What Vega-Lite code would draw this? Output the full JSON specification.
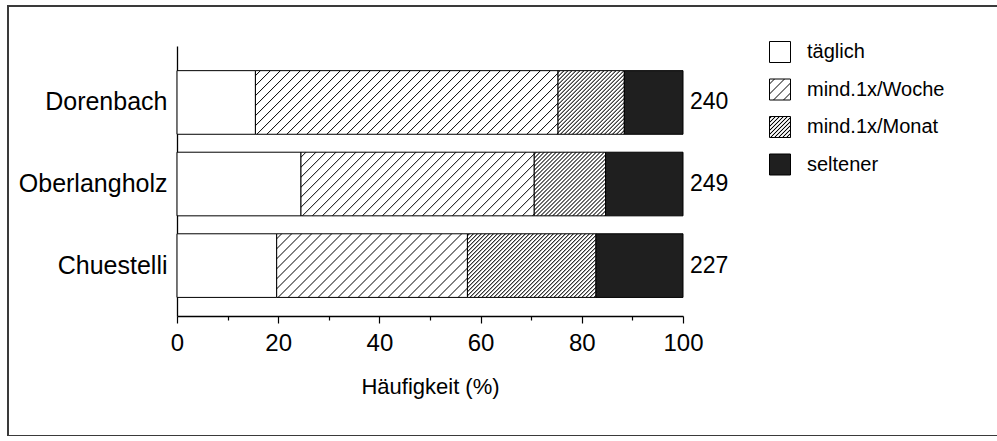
{
  "$schema": "https://vega.github.io/schema/vega-lite/v6.json",
  "width": 1000,
  "height": 430,
  "autosize": {"type": "none"},
  "padding": {"left": 8, "top": 6, "right": 0, "bottom": 0},
  "background": "white",
  "config": {
    "view": {"stroke": "#3a3a3a", "strokeWidth": 2},
    "font": "Liberation Sans",
    "axis": {"domainColor": "black", "domainWidth": 1.3, "labelColor": "black", "titleColor": "black", "labelFont": "Liberation Sans", "titleFont": "Liberation Sans", "grid": false}
  },
  "params": [
    {"name": "stopsW", "value": [
      {"offset":0.01,"color":"#fff"},{"offset":0.0125,"color":"#000"},{"offset":0.015,"color":"#fff"},
      {"offset":0.035,"color":"#fff"},{"offset":0.0375,"color":"#000"},{"offset":0.04,"color":"#fff"},
      {"offset":0.06,"color":"#fff"},{"offset":0.0625,"color":"#000"},{"offset":0.065,"color":"#fff"},
      {"offset":0.085,"color":"#fff"},{"offset":0.0875,"color":"#000"},{"offset":0.09,"color":"#fff"},
      {"offset":0.11,"color":"#fff"},{"offset":0.1125,"color":"#000"},{"offset":0.115,"color":"#fff"},
      {"offset":0.135,"color":"#fff"},{"offset":0.1375,"color":"#000"},{"offset":0.14,"color":"#fff"},
      {"offset":0.16,"color":"#fff"},{"offset":0.1625,"color":"#000"},{"offset":0.165,"color":"#fff"},
      {"offset":0.185,"color":"#fff"},{"offset":0.1875,"color":"#000"},{"offset":0.19,"color":"#fff"},
      {"offset":0.21,"color":"#fff"},{"offset":0.2125,"color":"#000"},{"offset":0.215,"color":"#fff"},
      {"offset":0.235,"color":"#fff"},{"offset":0.2375,"color":"#000"},{"offset":0.24,"color":"#fff"},
      {"offset":0.26,"color":"#fff"},{"offset":0.2625,"color":"#000"},{"offset":0.265,"color":"#fff"},
      {"offset":0.285,"color":"#fff"},{"offset":0.2875,"color":"#000"},{"offset":0.29,"color":"#fff"},
      {"offset":0.31,"color":"#fff"},{"offset":0.3125,"color":"#000"},{"offset":0.315,"color":"#fff"},
      {"offset":0.335,"color":"#fff"},{"offset":0.3375,"color":"#000"},{"offset":0.34,"color":"#fff"},
      {"offset":0.36,"color":"#fff"},{"offset":0.3625,"color":"#000"},{"offset":0.365,"color":"#fff"},
      {"offset":0.385,"color":"#fff"},{"offset":0.3875,"color":"#000"},{"offset":0.39,"color":"#fff"},
      {"offset":0.41,"color":"#fff"},{"offset":0.4125,"color":"#000"},{"offset":0.415,"color":"#fff"},
      {"offset":0.435,"color":"#fff"},{"offset":0.4375,"color":"#000"},{"offset":0.44,"color":"#fff"},
      {"offset":0.46,"color":"#fff"},{"offset":0.4625,"color":"#000"},{"offset":0.465,"color":"#fff"},
      {"offset":0.485,"color":"#fff"},{"offset":0.4875,"color":"#000"},{"offset":0.49,"color":"#fff"},
      {"offset":0.51,"color":"#fff"},{"offset":0.5125,"color":"#000"},{"offset":0.515,"color":"#fff"},
      {"offset":0.535,"color":"#fff"},{"offset":0.5375,"color":"#000"},{"offset":0.54,"color":"#fff"},
      {"offset":0.56,"color":"#fff"},{"offset":0.5625,"color":"#000"},{"offset":0.565,"color":"#fff"},
      {"offset":0.585,"color":"#fff"},{"offset":0.5875,"color":"#000"},{"offset":0.59,"color":"#fff"},
      {"offset":0.61,"color":"#fff"},{"offset":0.6125,"color":"#000"},{"offset":0.615,"color":"#fff"},
      {"offset":0.635,"color":"#fff"},{"offset":0.6375,"color":"#000"},{"offset":0.64,"color":"#fff"},
      {"offset":0.66,"color":"#fff"},{"offset":0.6625,"color":"#000"},{"offset":0.665,"color":"#fff"},
      {"offset":0.685,"color":"#fff"},{"offset":0.6875,"color":"#000"},{"offset":0.69,"color":"#fff"},
      {"offset":0.71,"color":"#fff"},{"offset":0.7125,"color":"#000"},{"offset":0.715,"color":"#fff"},
      {"offset":0.735,"color":"#fff"},{"offset":0.7375,"color":"#000"},{"offset":0.74,"color":"#fff"},
      {"offset":0.76,"color":"#fff"},{"offset":0.7625,"color":"#000"},{"offset":0.765,"color":"#fff"},
      {"offset":0.785,"color":"#fff"},{"offset":0.7875,"color":"#000"},{"offset":0.79,"color":"#fff"},
      {"offset":0.81,"color":"#fff"},{"offset":0.8125,"color":"#000"},{"offset":0.815,"color":"#fff"},
      {"offset":0.835,"color":"#fff"},{"offset":0.8375,"color":"#000"},{"offset":0.84,"color":"#fff"},
      {"offset":0.86,"color":"#fff"},{"offset":0.8625,"color":"#000"},{"offset":0.865,"color":"#fff"},
      {"offset":0.885,"color":"#fff"},{"offset":0.8875,"color":"#000"},{"offset":0.89,"color":"#fff"},
      {"offset":0.91,"color":"#fff"},{"offset":0.9125,"color":"#000"},{"offset":0.915,"color":"#fff"},
      {"offset":0.935,"color":"#fff"},{"offset":0.9375,"color":"#000"},{"offset":0.94,"color":"#fff"},
      {"offset":0.96,"color":"#fff"},{"offset":0.9625,"color":"#000"},{"offset":0.965,"color":"#fff"},
      {"offset":0.985,"color":"#fff"},{"offset":0.9875,"color":"#000"},{"offset":0.99,"color":"#fff"}
    ]},
    {"name": "stopsM", "value": [
      {"offset":0.004,"color":"#fff"},{"offset":0.01,"color":"#000"},{"offset":0.016,"color":"#fff"},
      {"offset":0.024,"color":"#fff"},{"offset":0.03,"color":"#000"},{"offset":0.036,"color":"#fff"},
      {"offset":0.044,"color":"#fff"},{"offset":0.05,"color":"#000"},{"offset":0.056,"color":"#fff"},
      {"offset":0.064,"color":"#fff"},{"offset":0.07,"color":"#000"},{"offset":0.076,"color":"#fff"},
      {"offset":0.084,"color":"#fff"},{"offset":0.09,"color":"#000"},{"offset":0.096,"color":"#fff"},
      {"offset":0.104,"color":"#fff"},{"offset":0.11,"color":"#000"},{"offset":0.116,"color":"#fff"},
      {"offset":0.124,"color":"#fff"},{"offset":0.13,"color":"#000"},{"offset":0.136,"color":"#fff"},
      {"offset":0.144,"color":"#fff"},{"offset":0.15,"color":"#000"},{"offset":0.156,"color":"#fff"},
      {"offset":0.164,"color":"#fff"},{"offset":0.17,"color":"#000"},{"offset":0.176,"color":"#fff"},
      {"offset":0.184,"color":"#fff"},{"offset":0.19,"color":"#000"},{"offset":0.196,"color":"#fff"},
      {"offset":0.204,"color":"#fff"},{"offset":0.21,"color":"#000"},{"offset":0.216,"color":"#fff"},
      {"offset":0.224,"color":"#fff"},{"offset":0.23,"color":"#000"},{"offset":0.236,"color":"#fff"},
      {"offset":0.244,"color":"#fff"},{"offset":0.25,"color":"#000"},{"offset":0.256,"color":"#fff"},
      {"offset":0.264,"color":"#fff"},{"offset":0.27,"color":"#000"},{"offset":0.276,"color":"#fff"},
      {"offset":0.284,"color":"#fff"},{"offset":0.29,"color":"#000"},{"offset":0.296,"color":"#fff"},
      {"offset":0.304,"color":"#fff"},{"offset":0.31,"color":"#000"},{"offset":0.316,"color":"#fff"},
      {"offset":0.324,"color":"#fff"},{"offset":0.33,"color":"#000"},{"offset":0.336,"color":"#fff"},
      {"offset":0.344,"color":"#fff"},{"offset":0.35,"color":"#000"},{"offset":0.356,"color":"#fff"},
      {"offset":0.364,"color":"#fff"},{"offset":0.37,"color":"#000"},{"offset":0.376,"color":"#fff"},
      {"offset":0.384,"color":"#fff"},{"offset":0.39,"color":"#000"},{"offset":0.396,"color":"#fff"},
      {"offset":0.404,"color":"#fff"},{"offset":0.41,"color":"#000"},{"offset":0.416,"color":"#fff"},
      {"offset":0.424,"color":"#fff"},{"offset":0.43,"color":"#000"},{"offset":0.436,"color":"#fff"},
      {"offset":0.444,"color":"#fff"},{"offset":0.45,"color":"#000"},{"offset":0.456,"color":"#fff"},
      {"offset":0.464,"color":"#fff"},{"offset":0.47,"color":"#000"},{"offset":0.476,"color":"#fff"},
      {"offset":0.484,"color":"#fff"},{"offset":0.49,"color":"#000"},{"offset":0.496,"color":"#fff"},
      {"offset":0.504,"color":"#fff"},{"offset":0.51,"color":"#000"},{"offset":0.516,"color":"#fff"},
      {"offset":0.524,"color":"#fff"},{"offset":0.53,"color":"#000"},{"offset":0.536,"color":"#fff"},
      {"offset":0.544,"color":"#fff"},{"offset":0.55,"color":"#000"},{"offset":0.556,"color":"#fff"},
      {"offset":0.564,"color":"#fff"},{"offset":0.57,"color":"#000"},{"offset":0.576,"color":"#fff"},
      {"offset":0.584,"color":"#fff"},{"offset":0.59,"color":"#000"},{"offset":0.596,"color":"#fff"},
      {"offset":0.604,"color":"#fff"},{"offset":0.61,"color":"#000"},{"offset":0.616,"color":"#fff"},
      {"offset":0.624,"color":"#fff"},{"offset":0.63,"color":"#000"},{"offset":0.636,"color":"#fff"},
      {"offset":0.644,"color":"#fff"},{"offset":0.65,"color":"#000"},{"offset":0.656,"color":"#fff"},
      {"offset":0.664,"color":"#fff"},{"offset":0.67,"color":"#000"},{"offset":0.676,"color":"#fff"},
      {"offset":0.684,"color":"#fff"},{"offset":0.69,"color":"#000"},{"offset":0.696,"color":"#fff"},
      {"offset":0.704,"color":"#fff"},{"offset":0.71,"color":"#000"},{"offset":0.716,"color":"#fff"},
      {"offset":0.724,"color":"#fff"},{"offset":0.73,"color":"#000"},{"offset":0.736,"color":"#fff"},
      {"offset":0.744,"color":"#fff"},{"offset":0.75,"color":"#000"},{"offset":0.756,"color":"#fff"},
      {"offset":0.764,"color":"#fff"},{"offset":0.77,"color":"#000"},{"offset":0.776,"color":"#fff"},
      {"offset":0.784,"color":"#fff"},{"offset":0.79,"color":"#000"},{"offset":0.796,"color":"#fff"},
      {"offset":0.804,"color":"#fff"},{"offset":0.81,"color":"#000"},{"offset":0.816,"color":"#fff"},
      {"offset":0.824,"color":"#fff"},{"offset":0.83,"color":"#000"},{"offset":0.836,"color":"#fff"},
      {"offset":0.844,"color":"#fff"},{"offset":0.85,"color":"#000"},{"offset":0.856,"color":"#fff"},
      {"offset":0.864,"color":"#fff"},{"offset":0.87,"color":"#000"},{"offset":0.876,"color":"#fff"},
      {"offset":0.884,"color":"#fff"},{"offset":0.89,"color":"#000"},{"offset":0.896,"color":"#fff"},
      {"offset":0.904,"color":"#fff"},{"offset":0.91,"color":"#000"},{"offset":0.916,"color":"#fff"},
      {"offset":0.924,"color":"#fff"},{"offset":0.93,"color":"#000"},{"offset":0.936,"color":"#fff"},
      {"offset":0.944,"color":"#fff"},{"offset":0.95,"color":"#000"},{"offset":0.956,"color":"#fff"},
      {"offset":0.964,"color":"#fff"},{"offset":0.97,"color":"#000"},{"offset":0.976,"color":"#fff"},
      {"offset":0.984,"color":"#fff"},{"offset":0.99,"color":"#000"},{"offset":0.996,"color":"#fff"}
    ]}
  ],
  "datasets": {
    "anteile": [
      {"ort": "Dorenbach", "kat": "täglich", "rang": 1, "anteil": 15.5},
      {"ort": "Dorenbach", "kat": "mind.1x/Woche", "rang": 2, "anteil": 59.8},
      {"ort": "Dorenbach", "kat": "mind.1x/Monat", "rang": 3, "anteil": 13.1},
      {"ort": "Dorenbach", "kat": "seltener", "rang": 4, "anteil": 11.6},
      {"ort": "Oberlangholz", "kat": "täglich", "rang": 1, "anteil": 24.5},
      {"ort": "Oberlangholz", "kat": "mind.1x/Woche", "rang": 2, "anteil": 46.1},
      {"ort": "Oberlangholz", "kat": "mind.1x/Monat", "rang": 3, "anteil": 14.1},
      {"ort": "Oberlangholz", "kat": "seltener", "rang": 4, "anteil": 15.3},
      {"ort": "Chuestelli", "kat": "täglich", "rang": 1, "anteil": 19.7},
      {"ort": "Chuestelli", "kat": "mind.1x/Woche", "rang": 2, "anteil": 37.7},
      {"ort": "Chuestelli", "kat": "mind.1x/Monat", "rang": 3, "anteil": 25.4},
      {"ort": "Chuestelli", "kat": "seltener", "rang": 4, "anteil": 17.2}
    ],
    "stichprobe": [
      {"ort": "Dorenbach", "n": 240},
      {"ort": "Oberlangholz", "n": 249},
      {"ort": "Chuestelli", "n": 227}
    ]
  },
  "layer": [
    {
      "data": {"name": "anteile"},
      "mark": {"type": "bar", "stroke": "black", "strokeWidth": 1},
      "encoding": {
        "y": {
          "field": "ort", "type": "nominal",
          "scale": {"type": "band", "domain": ["Dorenbach", "Oberlangholz", "Chuestelli"], "range": [40, 310], "paddingInner": 0.22, "paddingOuter": 0.265, "align": 0.57},
          "axis": {"title": null, "orient": "left", "offset": -169, "ticks": false, "labelPadding": 10, "labelFontSize": 25, "labelLimit": 300}
        },
        "x": {
          "field": "anteil", "type": "quantitative", "stack": "zero",
          "scale": {"domain": [0, 100], "range": [169, 675], "nice": false, "zero": true},
          "axis": {
            "title": "Häufigkeit (%)", "orient": "bottom", "offset": -120,
            "values": [0, 10, 20, 30, 40, 50, 60, 70, 80, 90, 100],
            "labelExpr": "datum.value % 20 === 0 ? datum.label : ''",
            "tickSize": {"condition": {"test": "datum.value % 20 === 0", "value": 7}, "value": 4},
            "tickColor": "black", "tickWidth": 1.2,
            "labelFontSize": 24, "labelFlush": false, "labelPadding": 8, "labelOverlap": false,
            "titleFontSize": 22, "titleFontWeight": "normal", "titlePadding": 21
          }
        },
        "order": {"field": "rang", "type": "quantitative"},
        "fill": {
          "field": "kat", "type": "nominal",
          "scale": {
            "domain": ["täglich", "mind.1x/Woche", "mind.1x/Monat", "seltener"],
            "range": [
              "#ffffff",
              {"expr": "{gradient: 'linear', x1: 0, y1: 0, x2: 9.524, y2: 9.524, stops: stopsW}"},
              {"expr": "{gradient: 'linear', x1: 0, y1: 0, x2: 4.762, y2: 4.762, stops: stopsM}"},
              "#1f1f1f"
            ]
          },
          "condition": [
            {"test": "datum.ort === 'Dorenbach' && datum.kat === 'mind.1x/Woche'", "value": {"expr": "{gradient: 'linear', x1: 0, y1: 0, x2: 1.266, y2: 0.2661, stops: stopsW}"}},
            {"test": "datum.ort === 'Oberlangholz' && datum.kat === 'mind.1x/Woche'", "value": {"expr": "{gradient: 'linear', x1: 0, y1: 0, x2: 1.5961, y2: 0.4352, stops: stopsW}"}},
            {"test": "datum.ort === 'Chuestelli' && datum.kat === 'mind.1x/Woche'", "value": {"expr": "{gradient: 'linear', x1: 0, y1: 0, x2: 1.8871, y2: 0.6292, stops: stopsW}"}},
            {"test": "datum.ort === 'Dorenbach' && datum.kat === 'mind.1x/Monat'", "value": {"expr": "{gradient: 'linear', x1: 0, y1: 0, x2: 1.5711, y2: 1.5073, stops: stopsM}"}},
            {"test": "datum.ort === 'Oberlangholz' && datum.kat === 'mind.1x/Monat'", "value": {"expr": "{gradient: 'linear', x1: 0, y1: 0, x2: 1.562, y2: 1.3923, stops: stopsM}"}},
            {"test": "datum.ort === 'Chuestelli' && datum.kat === 'mind.1x/Monat'", "value": {"expr": "{gradient: 'linear', x1: 0, y1: 0, x2: 1.25, y2: 0.6186, stops: stopsM}"}}
          ],
          "legend": {
            "title": null, "orient": "none", "legendX": 761, "legendY": 35, "padding": 0,
            "symbolType": "square", "symbolSize": 441, "symbolStrokeColor": "black", "symbolStrokeWidth": 1, "symbolOpacity": 1,
            "labelFontSize": 20, "labelColor": "black", "labelFont": "Liberation Sans", "labelOffset": 16, "rowPadding": 11.5, "labelLimit": 300
          }
        }
      }
    },
    {
      "data": {"name": "stichprobe"},
      "mark": {"type": "text", "align": "left", "baseline": "middle", "dx": 7, "fontSize": 23, "font": "Liberation Sans", "color": "black"},
      "encoding": {
        "y": {"field": "ort", "type": "nominal"},
        "x": {"datum": 100, "type": "quantitative"},
        "text": {"field": "n", "type": "quantitative"}
      }
    }
  ]
}
